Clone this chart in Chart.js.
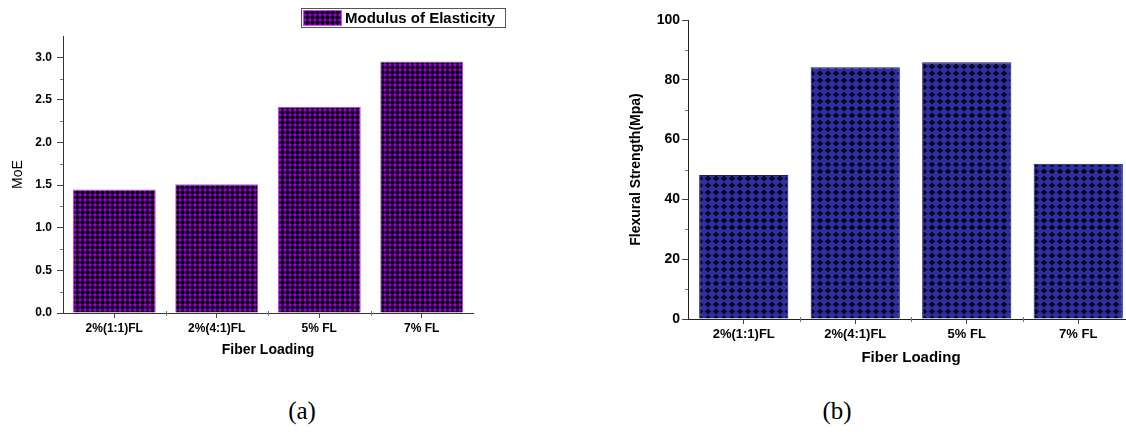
<!DOCTYPE html>
<html>
<head>
<meta charset="utf-8">
<script src="https://cdn.jsdelivr.net/npm/chart.js@4.4.1/dist/chart.umd.min.js"></script>
<style>
  html, body { margin: 0; padding: 0; background: #fff; width: 1126px; height: 432px; overflow: hidden; }
  #wrapA { position: absolute; left: 0; top: 0; width: 520px; height: 370px; }
  #wrapB { position: absolute; left: 600px; top: 0; width: 540px; height: 380px; }
  .caption { position: absolute; top: 397px; font-family: "Liberation Serif", "Times New Roman", serif; font-size: 25px; color: #000; transform: translateX(-50%); }
</style>
</head>
<body>
<div id="wrapA"><canvas id="chartA" width="520" height="370"></canvas></div>
<div id="wrapB"><canvas id="chartB" width="540" height="380"></canvas></div>
<div class="caption" style="left:302px">(a)</div>
<div class="caption" style="left:837px">(b)</div>
<script>
// chart data
const categories = ['2%(1:1)FL', '2%(4:1)FL', '5% FL', '7% FL']
const moeValues = [1.45, 1.51, 2.42, 2.95]
const flexValues = [48.2, 84.2, 85.9, 51.9]
const moeLabel = 'Modulus of Elasticity'

const FONT = '"Liberation Sans", Arial, sans-serif'

// little tiles used as bar fills
const makePattern = (w, h, bg, draw) => {
  const c = document.createElement('canvas')
  c.width = w
  c.height = h
  const ctx = c.getContext('2d')
  ctx.fillStyle = bg
  ctx.fillRect(0, 0, w, h)
  draw(ctx)
  return ctx.createPattern(c, 'repeat')
}

const purpleDots = makePattern(5, 5, '#9400d6', (ctx) => {
  ctx.fillStyle = '#000'
  ctx.beginPath()
  ctx.arc(2.5, 2.5, 2.15, 0, Math.PI * 2)
  ctx.fill()
})

const navyDiamonds = makePattern(8, 7, '#2f2fa2', (ctx) => {
  ctx.fillStyle = '#050522'
  ctx.beginPath()
  ctx.moveTo(4, 0.5)
  ctx.lineTo(7.3, 3.5)
  ctx.lineTo(4, 6.5)
  ctx.lineTo(0.7, 3.5)
  ctx.closePath()
  ctx.fill()
})

// minor ticks on y (between majors) and boundary ticks on x
const minorTicks = {
  id: 'minorTicks',
  afterDraw: (chart) => {
    const ctx = chart.ctx
    const y = chart.scales.y
    const x = chart.scales.x
    ctx.save()
    ctx.strokeStyle = '#777'
    ctx.lineWidth = 1
    for (let i = 0; i < y.ticks.length - 1; i++) {
      const v = (y.ticks[i].value + y.ticks[i + 1].value) / 2
      const py = Math.round(y.getPixelForValue(v)) + 0.5
      ctx.beginPath()
      ctx.moveTo(y.right - 3, py)
      ctx.lineTo(y.right, py)
      ctx.stroke()
    }
    for (let i = 0; i < categories.length - 1; i++) {
      const px = Math.round(x.getPixelForValue(i + 0.5)) + 0.5
      ctx.beginPath()
      ctx.moveTo(px, x.top - 2)
      ctx.lineTo(px, x.top + 3)
      ctx.stroke()
    }
    ctx.restore()
  }
}

// boxed legend in the top right corner of chart (a)
const boxLegend = {
  id: 'boxLegend',
  afterDraw: (chart) => {
    const ctx = chart.ctx
    const ds = chart.data.datasets[0]
    ctx.save()
    ctx.strokeStyle = '#555'
    ctx.lineWidth = 1
    ctx.strokeRect(301.5, 8.5, 204, 19)
    ctx.fillStyle = ds.backgroundColor
    ctx.fillRect(303, 10, 39, 16)
    ctx.strokeStyle = ds.borderColor
    ctx.strokeRect(303.5, 10.5, 38, 15)
    ctx.fillStyle = '#000'
    ctx.font = 'bold 15px ' + FONT
    ctx.textBaseline = 'middle'
    ctx.fillText(ds.label, 345, 18.5)
    ctx.restore()
  }
}

Chart.defaults.font.family = FONT
Chart.defaults.color = '#000'

new Chart(document.getElementById('chartA'), {
  type: 'bar',
  data: {
    labels: categories,
    datasets: [{
      label: moeLabel,
      data: moeValues,
      backgroundColor: purpleDots,
      borderColor: '#c04cf0',
      borderWidth: 1,
      barPercentage: 0.81,
      categoryPercentage: 1
    }]
  },
  options: {
    responsive: false,
    animation: false,
    layout: { padding: { top: 36, right: 47, left: 0, bottom: 0 } },
    plugins: { legend: { display: false }, tooltip: { enabled: false } },
    scales: {
      x: {
        afterFit: (s) => { s.height = 57 },
        grid: { offset: false, drawOnChartArea: false, tickLength: 5, color: '#444' },
        border: { color: '#333' },
        ticks: { font: { size: 12, weight: 'bold' }, padding: 3 },
        title: { display: true, text: 'Fiber Loading', font: { size: 14, weight: 'bold' }, padding: { top: 0, bottom: 11 } }
      },
      y: {
        min: 0,
        max: 3.25,
        afterFit: (s) => { s.width = 63 },
        afterBuildTicks: (s) => { s.ticks = s.ticks.filter(t => t.value <= 3) },
        grid: { drawOnChartArea: false, tickLength: 6, color: '#444' },
        border: { color: '#333' },
        ticks: { stepSize: 0.5, font: { size: 12, weight: 'bold' }, padding: 5, callback: (v) => Number(v).toFixed(1) },
        title: { display: true, text: 'MoE', font: { size: 14 }, padding: { top: 10, bottom: 0 } }
      }
    }
  },
  plugins: [minorTicks, boxLegend]
})

new Chart(document.getElementById('chartB'), {
  type: 'bar',
  data: {
    labels: categories,
    datasets: [{
      label: 'Flexural Strength',
      data: flexValues,
      backgroundColor: navyDiamonds,
      borderColor: '#1a1a80',
      borderWidth: 1,
      barPercentage: 0.8,
      categoryPercentage: 1
    }]
  },
  options: {
    responsive: false,
    animation: false,
    layout: { padding: { top: 20, right: 6, left: 0, bottom: 0 } },
    plugins: { legend: { display: false }, tooltip: { enabled: false } },
    scales: {
      x: {
        afterFit: (s) => { s.height = 61 },
        grid: { offset: false, drawOnChartArea: false, tickLength: 5, color: '#444' },
        border: { color: '#222' },
        ticks: { font: { size: 13, weight: 'bold' }, padding: 3 },
        title: { display: true, text: 'Fiber Loading', font: { size: 15, weight: 'bold' }, padding: { top: 0, bottom: 13 } }
      },
      y: {
        min: 0,
        max: 100,
        afterFit: (s) => { s.width = 88 },
        grid: { drawOnChartArea: false, tickLength: 6, color: '#444' },
        border: { color: '#222' },
        ticks: { stepSize: 20, font: { size: 14, weight: 'bold' }, padding: 2 },
        title: { display: true, text: 'Flexural Strength(Mpa)', font: { size: 14, weight: 'bold' }, padding: { top: 28, bottom: 0 } }
      }
    }
  },
  plugins: [minorTicks]
})
</script>
</body>
</html>
